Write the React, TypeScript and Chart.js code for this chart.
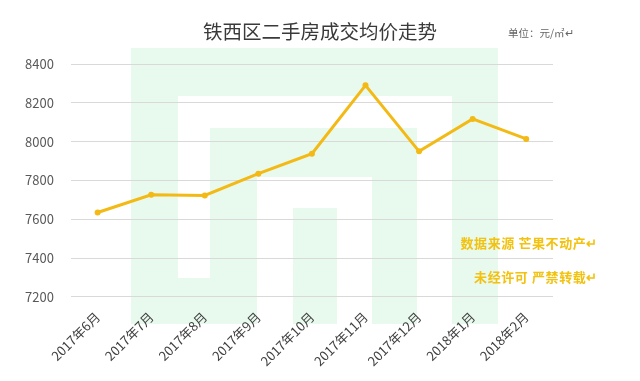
import React, { useEffect, useRef } from "react";
import { Chart, registerables } from "chart.js";

Chart.register(...registerables);

const categories = ["2017年6月", "2017年7月", "2017年8月", "2017年9月", "2017年10月", "2017年11月", "2017年12月", "2018年1月", "2018年2月"];
const avgPrice = [7635, 7726, 7723, 7835, 7938, 8290, 7950, 8117, 8014];
const titleText = "铁西区二手房成交均价走势";
const unitText = "单位：元/㎡↵";
const sourceLines = ["数据来源 芒果不动产↵", "未经许可 严禁转载↵"];
const yMin = 7200;
const yMax = 8400;
const yStep = 200;

const FONT = '"Noto Sans CJK SC", "Noto Sans", sans-serif';
const WM = "rgb(232, 249, 238)";

type R = { l: number; t: number; r: number; b: number; c: string };
const wmRects: R[] = [
  { l: 131, t: 48, r: 498, b: 324, c: WM },
  { l: 178, t: 96, r: 452, b: 324, c: "#ffffff" },
  { l: 178, t: 278, r: 257, b: 324, c: WM },
  { l: 210, t: 128, r: 417, b: 324, c: WM },
  { l: 257, t: 177, r: 372, b: 324, c: "#ffffff" },
  { l: 293, t: 208, r: 337, b: 324, c: WM },
];

export default function App() {
  const ref = useRef<HTMLCanvasElement | null>(null);
  useEffect(() => {
    document.body.style.margin = "0";
    const canvas = ref.current;
    if (!canvas) return;
    const chart = new Chart(canvas, {
      type: "line",
      data: {
        labels: categories,
        datasets: [
          {
            data: avgPrice,
            borderColor: "#f3b915",
            backgroundColor: "#f3b915",
            borderWidth: 3,
            pointRadius: 3,
            pointBorderWidth: 0,
            tension: 0,
          },
        ],
      },
      options: {
        animation: false,
        responsive: false,
        devicePixelRatio: 1,
        layout: { padding: { left: 8, right: 87, top: 64, bottom: 0 } },
        plugins: {
          legend: { display: false },
          tooltip: { enabled: false },
          title: { display: false },
        },
        scales: {
          x: {
            offset: true,
            grid: { display: false, drawTicks: false },
            border: { display: false },
            ticks: {
              color: "#404040",
              font: { family: FONT, size: 13 },
              maxRotation: 45,
              minRotation: 45,
              autoSkip: false,
              padding: 12,
            },
          },
          y: {
            min: yMin,
            max: yMax,
            grid: { color: "#d9d9d9", drawTicks: false },
            border: { display: false },
            ticks: {
              stepSize: yStep,
              color: "#595959",
              font: { family: FONT, size: 13 },
              padding: 17,
              callback: (v: any) => String(v),
            },
          },
        },
      },
    });
    return () => chart.destroy();
  }, []);

  return (
    <div style={{ position: "relative", width: 640, height: 381, background: "#fff", overflow: "hidden" }}>
      {wmRects.map((r, i) => (
        <div
          key={i}
          style={{ position: "absolute", left: r.l, top: r.t, width: r.r - r.l, height: r.b - r.t, background: r.c }}
        />
      ))}
      <canvas ref={ref} width={640} height={381} style={{ position: "absolute", left: 0, top: 0, width: 640, height: 381 }} />
      <div
        style={{
          position: "absolute",
          left: 0,
          width: 640,
          top: 19,
          textAlign: "center",
          fontFamily: FONT,
          fontSize: 19.5,
          color: "#3a3a3a",
          lineHeight: "24px",
          whiteSpace: "nowrap",
        }}
      >
        {titleText}
      </div>
      <div
        style={{ position: "absolute", left: 508, top: 25, fontFamily: FONT, fontSize: 10.5, color: "#666", whiteSpace: "nowrap", lineHeight: "16px" }}
      >
        {unitText}
      </div>
      {sourceLines.map((t, i) => (
        <div
          key={i}
          style={{
            position: "absolute",
            right: 42,
            top: 234 + i * 34,
            fontFamily: FONT,
            fontSize: 13,
            fontWeight: 700,
            letterSpacing: "0.6px",
            color: "#f2c20f",
            whiteSpace: "pre",
            lineHeight: "18px",
          }}
        >
          {t}
        </div>
      ))}
    </div>
  );
}
